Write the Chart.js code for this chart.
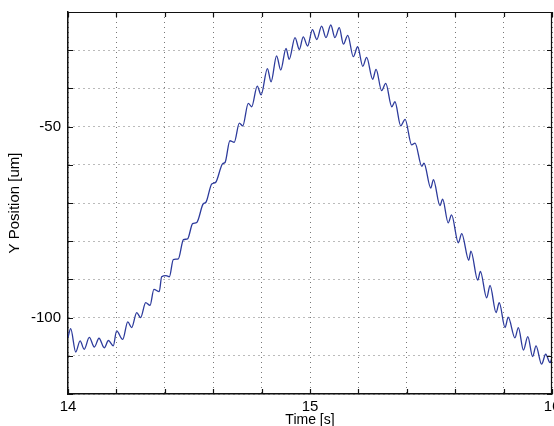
<!DOCTYPE html>
<html>
<head>
<meta charset="utf-8">
<script src="https://cdn.jsdelivr.net/npm/chart.js@4/dist/chart.umd.min.js"></script>
<style>
  html, body { margin: 0; padding: 0; background: #ffffff; }
  #wrap { width: 554px; height: 426px; position: relative; }
</style>
</head>
<body>
<div id="wrap"><canvas id="c" width="554" height="426"></canvas></div>
<script>
// Time samples [s] (at ripple peaks / troughs)
const times = [
  14.000, 14.011, 14.032, 14.050, 14.067, 14.088, 14.109, 14.128, 14.150, 14.167,
  14.187, 14.201, 14.226, 14.247, 14.263, 14.284, 14.300, 14.321, 14.339, 14.355,
  14.377, 14.387, 14.405, 14.419, 14.435, 14.456, 14.477, 14.494, 14.515, 14.532,
  14.559, 14.570, 14.594, 14.610, 14.639, 14.649, 14.669, 14.687, 14.708, 14.722,
  14.745, 14.759, 14.782, 14.798, 14.824, 14.839, 14.862, 14.879, 14.901, 14.914,
  14.938, 14.956, 14.972, 14.990, 15.010, 15.028, 15.048, 15.066, 15.086, 15.103,
  15.121, 15.138, 15.156, 15.179, 15.197, 15.218, 15.234, 15.259, 15.273, 15.296,
  15.313, 15.338, 15.351, 15.375, 15.393, 15.420, 15.434, 15.462, 15.471, 15.499,
  15.510, 15.537, 15.548, 15.571, 15.585, 15.613, 15.627, 15.656, 15.665, 15.693,
  15.704, 15.730, 15.744, 15.769, 15.782, 15.806, 15.819, 15.847, 15.861, 15.882,
  15.900, 15.920, 15.934, 15.957, 15.974, 15.992, 16.000
];
// Y position [um]
const yPos = [
  -105.2, -102.9, -109.0, -106.1, -108.3, -105.2, -107.7, -105.4, -107.9, -106.0,
  -107.4, -103.5, -105.7, -101.1, -102.6, -98.7, -100.0, -96.1, -96.8, -92.6,
  -93.2, -89.3, -89.0, -89.3, -84.8, -84.6, -79.6, -79.4, -75.4, -75.1,
  -70.2, -69.8, -65.0, -64.6, -59.7, -59.4, -53.7, -54.1, -49.1, -49.8,
  -43.9, -44.8, -39.4, -41.7, -34.8, -38.3, -31.5, -35.2, -29.5, -32.4,
  -26.7, -29.8, -26.5, -28.9, -24.6, -27.2, -23.7, -26.7, -23.4, -26.7,
  -24.1, -28.4, -26.1, -31.7, -29.1, -34.2, -31.9, -37.6, -35.0, -40.6,
  -38.7, -44.8, -43.5, -49.8, -48.1, -54.8, -54.3, -60.4, -59.6, -66.1,
  -63.9, -70.7, -69.0, -75.2, -73.1, -80.4, -78.0, -85.0, -82.6, -90.2,
  -87.9, -94.8, -91.6, -98.7, -96.1, -102.6, -99.9, -105.3, -102.6, -108.5,
  -105.0, -110.2, -107.4, -112.2, -109.6, -111.8, -110.5
];
// Axis ranges and labelled ticks
const xRange = [14, 16];
const yRange = [-120, -20];
const xLabelTicks = [14, 15, 16];
const yLabelTicks = [-50, -100];

const points = times.map((t, i) => ({ x: t, y: yPos[i] }));
const near = (v, arr) => arr.some(a => Math.abs(v - a) < 1e-6);

const frame = {
  id: 'frame',
  afterDraw(chart) {
    const ctx = chart.ctx;
    const a = chart.chartArea;
    const xs = chart.scales.x, ys = chart.scales.y;
    ctx.save();
    ctx.strokeStyle = '#111';
    ctx.lineWidth = 1.2;
    ctx.beginPath();
    ctx.moveTo(a.left, a.top + 0.5); ctx.lineTo(a.right, a.top + 0.5);
    ctx.moveTo(a.right - 0.5, a.top); ctx.lineTo(a.right - 0.5, a.bottom);
    const L = 5;
    xs.ticks.forEach(tk => {
      const p = Math.round(xs.getPixelForValue(tk.value)) + 0.5;
      ctx.moveTo(p, a.bottom); ctx.lineTo(p, a.bottom - L);
      ctx.moveTo(p, a.top); ctx.lineTo(p, a.top + L);
    });
    ys.ticks.forEach(tk => {
      const p = Math.round(ys.getPixelForValue(tk.value)) + 0.5;
      ctx.moveTo(a.left, p); ctx.lineTo(a.left + L, p);
      ctx.moveTo(a.right, p); ctx.lineTo(a.right - L, p);
    });
    ctx.stroke();
    ctx.restore();
  }
};

Chart.defaults.font.family = '"Liberation Sans", Arial, sans-serif';
Chart.defaults.color = '#000';

new Chart(document.getElementById('c'), {
  type: 'line',
  data: {
    datasets: [{
      data: points,
      borderColor: '#2d3b9c',
      borderWidth: 1.3,
      pointRadius: 0,
      fill: false,
      cubicInterpolationMode: 'monotone'
    }]
  },
  options: {
    responsive: false,
    animation: false,
    events: [],
    layout: { padding: { top: 12, right: 2, left: 0, bottom: 0 } },
    plugins: { legend: { display: false }, tooltip: { enabled: false } },
    scales: {
      x: {
        type: 'linear',
        min: xRange[0], max: xRange[1],
        ticks: {
          stepSize: 0.2, autoSkip: false, maxRotation: 0, padding: 4,
          font: { size: 15 },
          callback: v => near(v, xLabelTicks) ? String(Math.round(v)) : ''
        },
        grid: { color: '#777', lineWidth: 1, drawTicks: false },
        border: { color: '#111', width: 1.5, dash: [1, 4] },
        title: { display: true, text: 'Time [s]', font: { size: 14 }, padding: { top: 0, bottom: -3 } },
        afterFit(s) { s.height = 32; s.paddingLeft = 0; s.paddingRight = 0; }
      },
      y: {
        type: 'linear',
        min: yRange[0], max: yRange[1],
        ticks: {
          stepSize: 10, autoSkip: false, padding: 7,
          font: { size: 15 },
          callback: v => near(v, yLabelTicks) ? String(v) : ''
        },
        grid: { color: '#777', lineWidth: 1, drawTicks: false },
        border: { color: '#111', width: 1.5, dash: [1, 4] },
        title: { display: true, text: 'Y Position [um]', font: { size: 15 }, padding: { top: 6, bottom: 0 } },
        afterFit(s) { s.width = 68; s.paddingTop = 0; s.paddingBottom = 0; }
      }
    }
  },
  plugins: [frame]
});
</script>
</body>
</html>
